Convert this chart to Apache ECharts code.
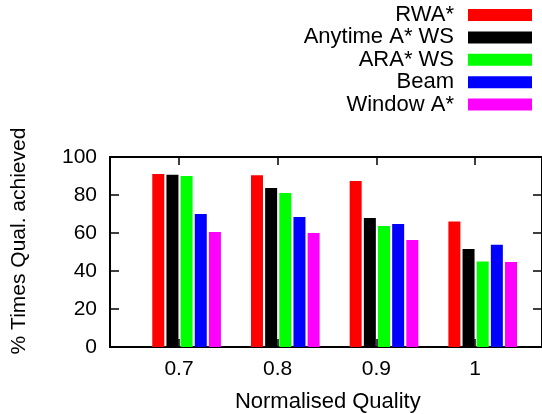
<!DOCTYPE html>
<html>
<head>
<meta charset="utf-8">
<script src="https://cdn.jsdelivr.net/npm/echarts@6/dist/echarts.min.js"></script>
<style>html,body{margin:0;padding:0;background:#fff;}#c{width:542px;height:414px;}</style>
</head>
<body>
<div id="c"></div>
<script>
const categories = ['0.7', '0.8', '0.9', '1'];
const seriesNames = ['RWA*', 'Anytime A* WS', 'ARA* WS', 'Beam', 'Window A*'];
const rwa = [91, 90.4, 87.4, 66];
const anytime = [90.7, 83.7, 67.9, 51.6];
const ara = [90, 81, 63.7, 45];
const beam = [70, 68.4, 64.7, 53.8];
const windowA = [60.5, 60, 56.3, 44.7];
const yTicks = [0, 20, 40, 60, 80, 100];
const colors = ['#ff0000', '#000000', '#00ff00', '#0000ff', '#ff00ff'];
const allData = [rwa, anytime, ara, beam, windowA];

const FONT = "'Liberation Sans', Arial, sans-serif";
const chart = echarts.init(document.getElementById('c'), null, {renderer: 'canvas'});

const TOP = 157, BOTTOM = 414 - 347;
const bandW = 98.7;
const labelLeft = 179 - bandW / 2;
const barLeft = 186.6 - bandW / 2;
const totalW = bandW * 4;

const option = {
  animation: false,
  backgroundColor: '#fff',
  legend: {
    orient: 'vertical',
    align: 'right',
    right: 10,
    top: 4,
    padding: 0,
    itemGap: 0.4,
    itemWidth: 64,
    itemHeight: 12,
    icon: 'rect',
    data: seriesNames,
    textStyle: {fontFamily: FONT, fontSize: 22, color: '#000', lineHeight: 22, padding: [0, 9, 0, 0]}
  },
  grid: [
    {left: 110, right: -3, top: TOP, bottom: BOTTOM, show: true, borderColor: '#000', borderWidth: 2, backgroundColor: 'transparent'},
    {left: labelLeft, width: totalW, top: TOP, bottom: BOTTOM},
    {left: barLeft, width: totalW, top: TOP, bottom: BOTTOM}
  ],
  xAxis: [
    {gridIndex: 0, type: 'category', data: categories, show: false},
    {gridIndex: 1, type: 'category', data: categories, position: 'bottom',
      axisLine: {show: false},
      axisTick: {show: true, inside: true, length: 8, alignWithLabel: true, lineStyle: {color: '#000', width: 1.5}},
      axisLabel: {fontFamily: FONT, fontSize: 21, color: '#000', margin: 12}},
    {gridIndex: 1, type: 'category', data: categories, position: 'top',
      axisLine: {show: false},
      axisTick: {show: true, inside: true, length: 8, alignWithLabel: true, lineStyle: {color: '#000', width: 1.5}},
      axisLabel: {show: false}},
    {gridIndex: 2, type: 'category', data: categories, show: false}
  ],
  yAxis: [
    {gridIndex: 0, type: 'value', min: 0, max: 100, interval: 20, position: 'left',
      axisLine: {show: false},
      axisTick: {show: true, inside: true, length: 9, lineStyle: {color: '#000', width: 1.5}},
      splitLine: {show: false},
      axisLabel: {fontFamily: FONT, fontSize: 21, color: '#000', margin: 13,
        formatter: function (v) { return yTicks.indexOf(v) >= 0 ? String(v) : ''; }}},
    {gridIndex: 0, type: 'value', min: 0, max: 100, interval: 20, position: 'right',
      axisLine: {show: false},
      axisTick: {show: true, inside: true, length: 9, lineStyle: {color: '#000', width: 1.5}},
      splitLine: {show: false},
      axisLabel: {show: false}},
    {gridIndex: 1, type: 'value', min: 0, max: 100, show: false},
    {gridIndex: 2, type: 'value', min: 0, max: 100, show: false}
  ],
  series: seriesNames.map(function (name, i) {
    return {
      name: name,
      type: 'bar',
      xAxisIndex: 3,
      yAxisIndex: 3,
      data: allData[i],
      barWidth: 12,
      barGap: '18%',
      itemStyle: {color: colors[i]},
      z: 1
    };
  }),
  graphic: [
    {type: 'text', x: 19, y: 241, rotation: Math.PI / 2,
      style: {text: '% Times Qual. achieved', fontFamily: FONT, fontSize: 21, fill: '#000', align: 'center', verticalAlign: 'middle'}},
    {type: 'text', x: 327.8, y: 402, 
      style: {text: 'Normalised Quality', fontFamily: FONT, fontSize: 22, fill: '#000', align: 'center', verticalAlign: 'middle'}}
  ]
};
chart.setOption(option);
</script>
</body>
</html>
